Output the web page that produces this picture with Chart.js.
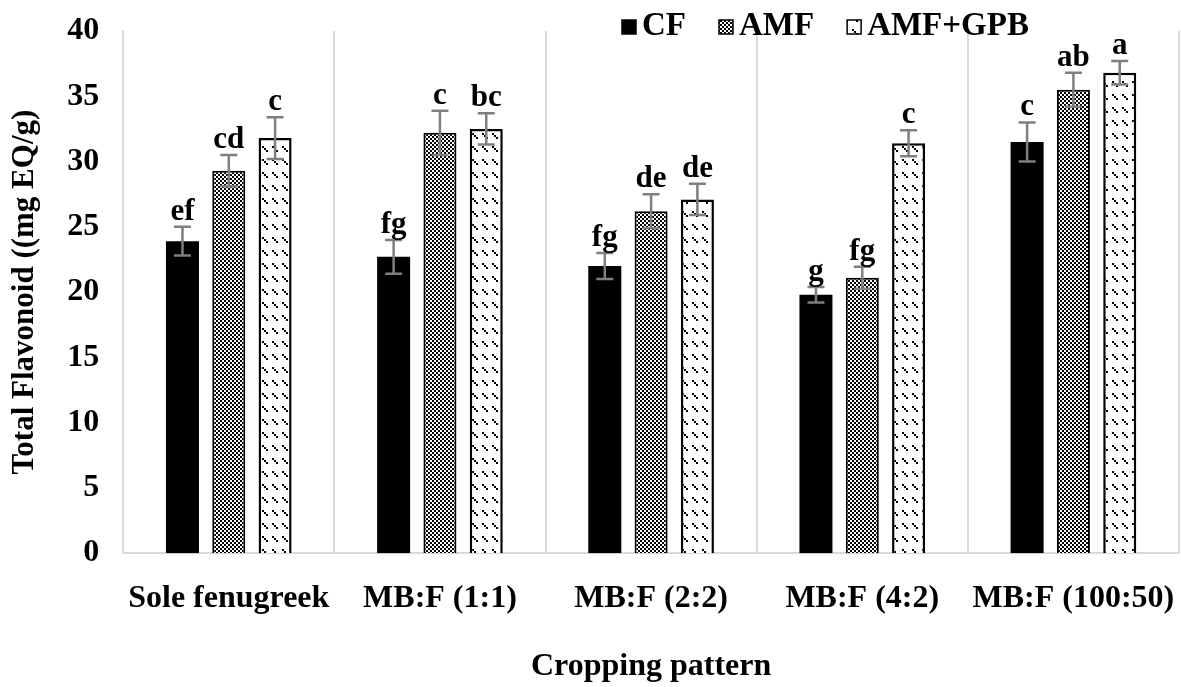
<!DOCTYPE html>
<html>
<head>
<meta charset="utf-8">
<script src="https://cdn.jsdelivr.net/npm/chart.js@4.4.1/dist/chart.umd.min.js"></script>
<style>
  html, body { margin: 0; padding: 0; background: #fff; }
  #wrap { width: 1181px; height: 687px; }
</style>
</head>
<body>
<div id="wrap"><canvas id="flav"></canvas></div>
<script>
const categories = ["Sole fenugreek", "MB:F (1:1)", "MB:F (2:2)", "MB:F (4:2)", "MB:F (100:50)"];
const seriesNames = ["CF", "AMF", "AMF+GPB"];
const cfValues = [23.9, 22.7, 22.0, 19.8, 31.5];
const amfValues = [29.3, 32.2, 26.2, 21.1, 35.5];
const gpbValues = [31.8, 32.5, 27.1, 31.4, 36.8];
const cfErr = [1.1, 1.3, 1.0, 0.6, 1.5];
const amfErr = [1.2, 1.7, 1.3, 0.85, 1.3];
const gpbErr = [1.6, 1.2, 1.2, 1.0, 0.9];
const cfLetters = ["ef", "fg", "fg", "g", "c"];
const amfLetters = ["cd", "c", "de", "fg", "ab"];
const gpbLetters = ["c", "bc", "de", "c", "a"];
const yTicks = [0, 5, 10, 15, 20, 25, 30, 35, 40];

const FONT = "'Liberation Serif', 'Times New Roman', serif";

// fill patterns
function checkerPattern() {
    const c = document.createElement("canvas");
    c.width = 4; c.height = 4;
    const g = c.getContext("2d");
    g.fillStyle = "#fff"; g.fillRect(0, 0, 4, 4);
    g.fillStyle = "#000";
    g.fillRect(0, 0, 2, 2);
    g.fillRect(2, 2, 2, 2);
    return g.createPattern(c, "repeat");
}
function dashPattern() {
    // short dotted "\" dashes, sparse
    const c = document.createElement("canvas");
    c.width = 10; c.height = 13;
    const g = c.getContext("2d");
    g.fillStyle = "#fff"; g.fillRect(0, 0, 10, 13);
    g.fillStyle = "#000";
    for (let i = 0; i < 3; i++) g.fillRect(2 + i * 2, 3 + i * 2, 2, 2);
    return g.createPattern(c, "repeat");
}
const fills = ["#000", checkerPattern(), dashPattern()];

const errorBars = {
    id: "errorBars",
    afterDatasetsDraw(chart) {
        const ctx = chart.ctx;
        const y = chart.scales.y;
        const errs = [cfErr, amfErr, gpbErr];
        const letters = [cfLetters, amfLetters, gpbLetters];
        chart.data.datasets.forEach((ds, di) => {
            chart.getDatasetMeta(di).data.forEach((bar, i) => {
                const v = ds.data[i], e = errs[di][i];
                const top = y.getPixelForValue(v + e);
                const bot = y.getPixelForValue(v - e);
                ctx.save();
                ctx.strokeStyle = "#7f7f7f";
                ctx.lineWidth = 2.5;
                ctx.beginPath();
                ctx.moveTo(bar.x, top); ctx.lineTo(bar.x, bot);
                ctx.moveTo(bar.x - 8.5, top); ctx.lineTo(bar.x + 8.5, top);
                ctx.moveTo(bar.x - 8.5, bot); ctx.lineTo(bar.x + 8.5, bot);
                ctx.stroke();
                ctx.fillStyle = "#000";
                ctx.font = "bold 31px " + FONT;
                ctx.textAlign = "center";
                ctx.textBaseline = "alphabetic";
                ctx.fillText(letters[di][i], bar.x, top - 7);
                ctx.restore();
            });
        });
    }
};

const topLegend = {
    id: "topLegend",
    afterDraw(chart) {
        const ctx = chart.ctx;
        ctx.save();
        ctx.font = "bold 33px " + FONT;
        ctx.textBaseline = "alphabetic";
        let x = 622;
        seriesNames.forEach((name, i) => {
            ctx.fillStyle = fills[i];
            ctx.fillRect(x, 20, 14, 14);
            ctx.strokeStyle = "#000";
            ctx.lineWidth = 1.5;
            ctx.strokeRect(x, 20, 14, 14);
            ctx.fillStyle = "#000";
            ctx.fillText(name, x + 20, 35);
            x += 20 + ctx.measureText(name).width + 33;
        });
        ctx.restore();
    }
};

new Chart(document.getElementById("flav"), {
    type: "bar",
    data: {
        labels: categories,
        datasets: [
            { label: seriesNames[0], data: cfValues, backgroundColor: fills[0], borderColor: "#000", borderWidth: 0 },
            { label: seriesNames[1], data: amfValues, backgroundColor: fills[1], borderColor: "#000", borderWidth: 2 },
            { label: seriesNames[2], data: gpbValues, backgroundColor: fills[2], borderColor: "#000", borderWidth: 2.5 },
        ]
    },
    options: {
        responsive: true,
        maintainAspectRatio: false,
        animation: false,
        layout: { padding: { top: 31, right: 2, left: 6, bottom: 1 } },
        datasets: { bar: { categoryPercentage: 0.658, barPercentage: 0.713 } },
        scales: {
            x: {
                afterFit: (s) => { s.paddingLeft = 0; s.paddingRight = 0; },
                grid: { offset: true, color: "#d9d9d9", lineWidth: 2, drawTicks: false },
                border: { color: "#d9d9d9", width: 2 },
                ticks: {
                    font: { family: FONT, size: 32, weight: "bold" },
                    color: "#000",
                    padding: 26,
                    maxRotation: 0,
                },
                title: {
                    display: true,
                    text: "Cropping pattern",
                    font: { family: FONT, size: 32, weight: "bold" },
                    color: "#000",
                    padding: { top: 4, bottom: 0 },
                },
            },
            y: {
                min: 0,
                max: 40,
                afterFit: (s) => { s.paddingTop = 0; s.paddingBottom = 0; },
                afterBuildTicks: (axis) => { axis.ticks = yTicks.map(v => ({ value: v })); },
                grid: { display: false, drawTicks: false },
                border: { color: "#d9d9d9", width: 2 },
                ticks: {
                    font: { family: FONT, size: 32, weight: "bold" },
                    color: "#000",
                    padding: 24,
                },
                title: {
                    display: true,
                    text: "Total Flavonoid ((mg EQ/g)",
                    font: { family: FONT, size: 31, weight: "bold" },
                    color: "#000",
                    padding: { top: 0, bottom: 0 },
                },
            },
        },
        plugins: {
            legend: { display: false },
            tooltip: { enabled: false },
        }
    },
    plugins: [errorBars, topLegend]
});
</script>
</body>
</html>
